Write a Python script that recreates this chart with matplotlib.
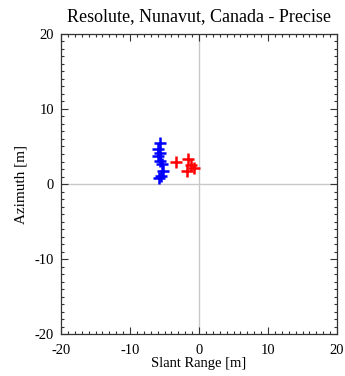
import numpy as np
import matplotlib.pyplot as plt
from matplotlib.ticker import MultipleLocator

plt.rcParams["font.family"] = ["Liberation Serif", "DejaVu Serif"]
plt.rcParams["axes.unicode_minus"] = False

# blue cluster
blue_x = [-5.65, -5.9, -5.65, -5.9, -5.65, -5.4, -5.2, -5.5, -5.8]
blue_y = [5.5, 4.7, 4.2, 3.8, 3.1, 2.7, 1.7, 1.1, 0.8]
# red cluster
red_x = [-3.3, -1.6, -1.2, -1.8, -0.8]
red_y = [3.0, 3.4, 2.6, 1.8, 2.2]

fig = plt.figure(figsize=(3.45, 3.76), dpi=100)
ax = fig.add_axes([0.177, 0.111, 0.800, 0.799])

ax.axhline(0, color="#c8c8c8", lw=1, zorder=0)
ax.axvline(0, color="#c8c8c8", lw=1, zorder=0)
ax.plot(blue_x, blue_y, "+", color="blue", ms=8, mew=1.8, ls="none")
ax.plot(red_x, red_y, "+", color="red", ms=8, mew=1.8, ls="none")

ax.set_xlim(-20, 20)
ax.set_ylim(-20, 20)
ax.xaxis.set_major_locator(MultipleLocator(10))
ax.yaxis.set_major_locator(MultipleLocator(10))
ax.xaxis.set_minor_locator(MultipleLocator(1))
ax.yaxis.set_minor_locator(MultipleLocator(1))
ax.tick_params(which="both", direction="in", top=True, right=True,
               labelsize=10.5, width=0.8, colors="#333333", labelcolor="black")
ax.tick_params(which="major", length=5)
ax.tick_params(axis="x", which="major", pad=7)
ax.tick_params(axis="y", which="major", pad=5)
ax.tick_params(which="minor", length=2.5)
for s in ax.spines.values():
    s.set_linewidth(0.9)
    s.set_color("#333333")

ax.set_xlabel("Slant Range [m]", fontsize=10.5, labelpad=0)
ax.set_ylabel("Azimuth [m]", fontsize=11, labelpad=5)
ax.set_title("Resolute, Nunavut, Canada - Precise", fontsize=13, pad=9)

fig.savefig("out.png", dpi=100)
